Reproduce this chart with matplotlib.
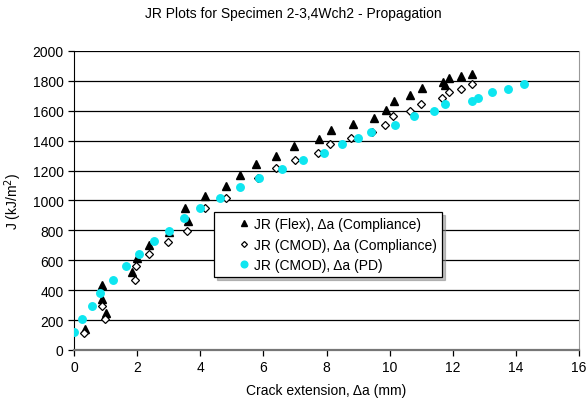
import matplotlib.pyplot as plt
from matplotlib.ticker import MultipleLocator

plt.rcParams['font.family'] = ['Liberation Sans', 'DejaVu Sans']

# JR (Flex), crack extension from compliance
flex_da = [0.35, 0.88, 0.90, 1.03, 1.83, 2.01, 2.38, 3.00, 3.53, 3.62, 4.15, 4.83,
           5.25, 5.78, 6.41, 6.97, 7.75, 8.13, 8.85, 9.49, 9.87, 10.13, 10.66,
           11.02, 11.68, 11.75, 11.88, 12.27, 12.62]
flex_j = [140, 437, 341, 245, 524, 612, 702, 787, 952, 865, 1030, 1095,
          1173, 1244, 1300, 1362, 1411, 1472, 1512, 1550, 1605, 1665, 1706,
          1752, 1790, 1770, 1820, 1831, 1846]

# JR (CMOD), crack extension from compliance
cmod_da = [0.32, 0.88, 0.98, 1.93, 1.98, 2.37, 2.98, 3.59, 4.15, 4.82, 5.83, 6.41,
           6.99, 7.74, 8.12, 8.79, 9.45, 9.85, 10.12, 10.66, 11.00, 11.66, 11.87,
           12.26, 12.60]
cmod_j = [114, 296, 207, 468, 560, 642, 725, 795, 950, 1017, 1150, 1215,
          1268, 1318, 1376, 1416, 1460, 1507, 1563, 1600, 1648, 1686, 1723,
          1746, 1777]

# JR (CMOD), crack extension from potential drop
pd_da = [0.00, 0.27, 0.56, 0.84, 1.24, 1.65, 2.07, 2.53, 3.01, 3.49, 4.00, 4.62,
         5.27, 5.86, 6.60, 7.26, 7.92, 8.48, 9.00, 9.42, 10.17, 10.77, 11.39,
         11.74, 12.62, 12.81, 13.25, 13.76, 14.26]
pd_j = [118, 207, 296, 381, 468, 560, 645, 727, 796, 881, 953, 1017,
        1088, 1150, 1213, 1271, 1318, 1378, 1418, 1460, 1507, 1567, 1601,
        1646, 1668, 1683, 1726, 1748, 1779]

fig = plt.figure(figsize=(5.87, 4.06), dpi=100)
ax = fig.add_axes([0.126, 0.1355, 0.8605, 0.7365])

ax.plot(flex_da, flex_j, linestyle='none', marker='^', markersize=5.4,
        color='black', label='JR (Flex), \u0394a (Compliance)', zorder=3)
ax.plot(cmod_da, cmod_j, linestyle='none', marker='D', markersize=3.8,
        markerfacecolor='white', markeredgecolor='black', markeredgewidth=0.9,
        label='JR (CMOD), \u0394a (Compliance)', zorder=3)
ax.plot(pd_da, pd_j, linestyle='none', marker='o', markersize=5.4,
        color='#0EE6F0', label='JR (CMOD), \u0394a (PD)', zorder=3)

ax.set_xlim(0, 16)
ax.set_ylim(0, 2000)
ax.xaxis.set_major_locator(MultipleLocator(2))
ax.yaxis.set_major_locator(MultipleLocator(200))
ax.yaxis.grid(True, color='black', linewidth=0.9)
ax.set_axisbelow(True)

ax.spines['left'].set_color('black')
ax.spines['bottom'].set_color('#777777')
ax.spines['bottom'].set_linewidth(1.6)
ax.spines['right'].set_color('#999999')
ax.spines['top'].set_visible(False)
ax.tick_params(direction='out', length=4, width=0.9, labelsize=10, colors='black')

ax.set_xlabel('Crack extension, \u0394a (mm)', fontsize=10, labelpad=6)
ax.set_ylabel('J (kJ/m$^2$)', fontsize=10, labelpad=6)
fig.suptitle('JR Plots for Specimen 2-3,4Wch2 - Propagation', fontsize=10, y=0.982)

# wide handle with negative text pad puts the small marker well inside the box
leg = ax.legend(loc='upper left', bbox_to_anchor=(0.277, 0.4615), borderaxespad=0,
                fontsize=10, frameon=True, fancybox=False, shadow={'color': '#808080'},
                edgecolor='black', handlelength=3.6, handletextpad=-1.1,
                labelspacing=0.45, borderpad=0.38)
leg.get_frame().set_linewidth(0.9)
for h, ms in zip(leg.legend_handles, [4.0, 3.0, 4.8]):
    h.set_markersize(ms)

fig.savefig('out.png', dpi=100)
